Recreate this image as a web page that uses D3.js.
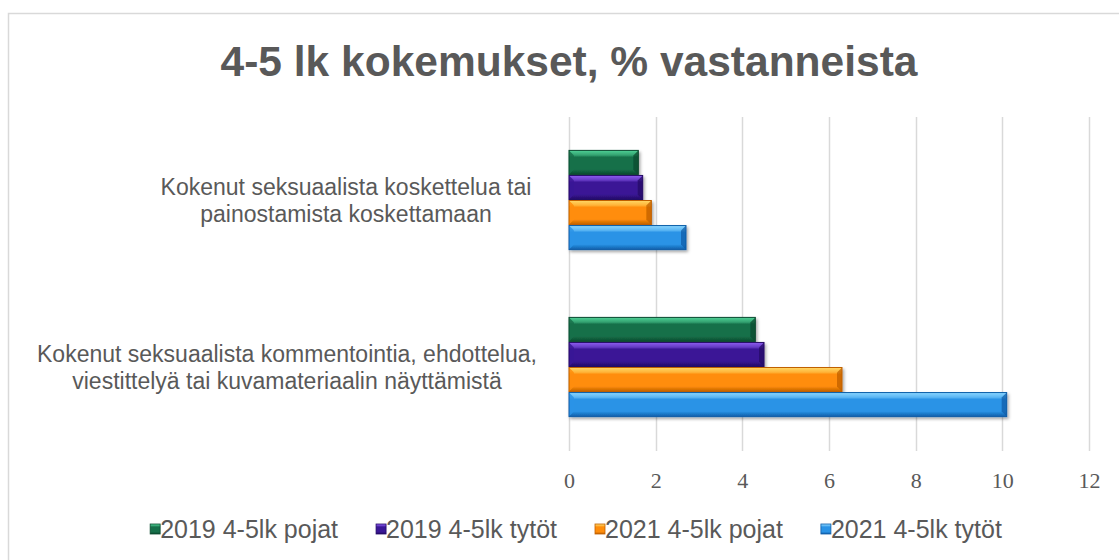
<!DOCTYPE html>
<html>
<head>
<meta charset="utf-8">
<script src="https://cdn.jsdelivr.net/npm/d3@7"></script>
<style>
  html, body { margin: 0; padding: 0; background: #fff; }
  svg { display: block; }
</style>
</head>
<body>
<svg id="chart"></svg>
<script>
// ---- data ----
const categories = [
  ["Kokenut seksuaalista koskettelua tai", "painostamista koskettamaan"],
  ["Kokenut seksuaalista kommentointia, ehdottelua,", "viestittelyä tai kuvamateriaalin näyttämistä"]
];
const seriesNames = ["2019 4-5lk pojat", "2019 4-5lk tytöt", "2021 4-5lk pojat", "2021 4-5lk tytöt"];
const values2019Pojat = [1.6, 4.3];
const values2019Tytot = [1.7, 4.5];
const values2021Pojat = [1.9, 6.3];
const values2021Tytot = [2.7, 10.1];
const xTicks = [0, 2, 4, 6, 8, 10, 12];

// ---- look ----
const width = 1119, height = 560;
const textColor = "#595959";
const palette = [
  { light: "#4fd196", base: "#16704a", dark: "#0b4a2f" },
  { light: "#8d5cf0", base: "#3a1796", dark: "#240a66" },
  { light: "#ffd866", base: "#ff8d0a", dark: "#c06000" },
  { light: "#8ad6ff", base: "#2a93e6", dark: "#0f5da8" }
];
const labelCenterX = [346, 287];

const seriesValues = [values2019Pojat, values2019Tytot, values2021Pojat, values2021Tytot];

const svg = d3.select("#chart")
  .attr("width", width)
  .attr("height", height);

// gradients
const defs = svg.append("defs");
palette.forEach((c, i) => {
  const lg = defs.append("linearGradient")
    .attr("id", "grad" + i)
    .attr("x1", 0).attr("y1", 0).attr("x2", 0).attr("y2", 1);
  lg.append("stop").attr("offset", "0%").attr("stop-color", c.light);
  lg.append("stop").attr("offset", "20%").attr("stop-color", d3.interpolateRgb(c.light, c.base)(0.5));
  lg.append("stop").attr("offset", "28%").attr("stop-color", c.base);
  lg.append("stop").attr("offset", "78%").attr("stop-color", c.base);
  lg.append("stop").attr("offset", "100%").attr("stop-color", c.dark);
});
const shadow = defs.append("filter").attr("id", "shadow")
  .attr("x", "-5%").attr("y", "-20%").attr("width", "115%").attr("height", "160%");
shadow.append("feDropShadow")
  .attr("dx", 1.5).attr("dy", 2).attr("stdDeviation", 1.5)
  .attr("flood-color", "#000").attr("flood-opacity", 0.35);

// chart border
svg.append("rect")
  .attr("x", 8.5).attr("y", 13.5)
  .attr("width", width + 20).attr("height", height + 20)
  .attr("fill", "none")
  .attr("stroke", "#d9d9d9")
  .attr("stroke-width", 1.5);

// title
svg.append("text")
  .attr("x", 569)
  .attr("y", 76)
  .attr("text-anchor", "middle")
  .attr("font-family", "'Liberation Sans', Arial, sans-serif")
  .attr("font-weight", "bold")
  .attr("font-size", "42.5px")
  .attr("fill", textColor)
  .text("4-5 lk kokemukset, % vastanneista");

// scales
const plot = { left: 569, right: 1089, top: 117, bottom: 451 };
const x = d3.scaleLinear().domain([0, 12]).range([plot.left, plot.right]);
const y0 = d3.scaleBand()
  .domain(d3.range(categories.length))
  .range([plot.top, plot.bottom])
  .paddingInner(0.4)
  .paddingOuter(0.2);
const y1 = d3.scaleBand()
  .domain(d3.range(seriesNames.length))
  .range([0, y0.bandwidth()]);

// gridlines
svg.append("g")
  .selectAll("line")
  .data(xTicks)
  .join("line")
  .attr("x1", d => Math.round(x(d)) + 0.5)
  .attr("x2", d => Math.round(x(d)) + 0.5)
  .attr("y1", plot.top)
  .attr("y2", plot.bottom)
  .attr("stroke", "#d9d9d9")
  .attr("stroke-width", 1.5);

// x tick labels
const xAxis = svg.append("g")
  .attr("transform", `translate(0, ${plot.bottom})`)
  .call(d3.axisBottom(x).tickValues(xTicks).tickSize(0).tickPadding(21));
xAxis.select(".domain").remove();
xAxis.selectAll("text")
  .attr("font-family", "'Liberation Serif', 'Times New Roman', serif")
  .attr("font-size", "22px")
  .attr("fill", textColor);

// category labels
categories.forEach((lines, i) => {
  const cy = y0(i) + y0.bandwidth() / 2;
  const lh = 27;
  const t = svg.append("text")
    .attr("text-anchor", "middle")
    .attr("font-family", "'Liberation Sans', Arial, sans-serif")
    .attr("font-size", "23px")
    .attr("fill", textColor);
  lines.forEach((ln, k) => {
    t.append("tspan")
      .attr("x", labelCenterX[i])
      .attr("y", cy + (k - (lines.length - 1) / 2) * lh + 8)
      .text(ln);
  });
});

// bars
const rows = [];
seriesValues.forEach((vals, s) => {
  vals.forEach((v, c) => rows.push({ s, c, v }));
});

const bar = svg.append("g")
  .selectAll("g")
  .data(rows)
  .join("g")
  .attr("filter", "url(#shadow)");

function bevelBar(sel) {
  sel.each(function(d) {
    const g = d3.select(this);
    const bx = x(0), bw = x(d.v) - x(0);
    const by = y0(d.c) + y1(d.s), bh = y1.bandwidth() - 1;
    const b = 5;
    const c = palette[d.s];
    g.append("rect")
      .attr("x", bx).attr("y", by).attr("width", bw).attr("height", bh)
      .attr("fill", `url(#grad${d.s})`);
    // left facet
    g.append("path")
      .attr("d", `M${bx},${by}L${bx + b},${by + b}L${bx + b},${by + bh - b}L${bx},${by + bh}Z`)
      .attr("fill", c.base).attr("opacity", 0.85);
    // right facet
    g.append("path")
      .attr("d", `M${bx + bw},${by}L${bx + bw - b},${by + b}L${bx + bw - b},${by + bh - b}L${bx + bw},${by + bh}Z`)
      .attr("fill", c.dark).attr("opacity", 0.75);
    g.append("rect")
      .attr("x", bx).attr("y", by).attr("width", bw).attr("height", bh)
      .attr("fill", "none")
      .attr("stroke", c.dark)
      .attr("stroke-width", 1);
  });
}
bar.call(bevelBar);

// legend
const legend = svg.append("g");
const items = legend.selectAll("g")
  .data(seriesNames)
  .join("g");
items.append("rect")
  .attr("width", 10).attr("height", 10)
  .attr("y", -14)
  .attr("fill", (d, i) => `url(#grad${i})`)
  .attr("stroke", (d, i) => palette[i].dark)
  .attr("stroke-width", 0.8);
items.append("text")
  .attr("x", 10)
  .attr("y", 0)
  .attr("font-family", "'Liberation Sans', Arial, sans-serif")
  .attr("font-size", "25px")
  .attr("fill", textColor)
  .text(d => d);

let cursor = 0;
items.each(function() {
  const g = d3.select(this);
  g.attr("transform", `translate(${cursor}, 0)`);
  cursor += 10 + g.select("text").node().getComputedTextLength() + 38;
});
const legendWidth = cursor - 38;
legend.attr("transform", `translate(${576 - legendWidth / 2}, 538)`);
</script>
</body>
</html>
